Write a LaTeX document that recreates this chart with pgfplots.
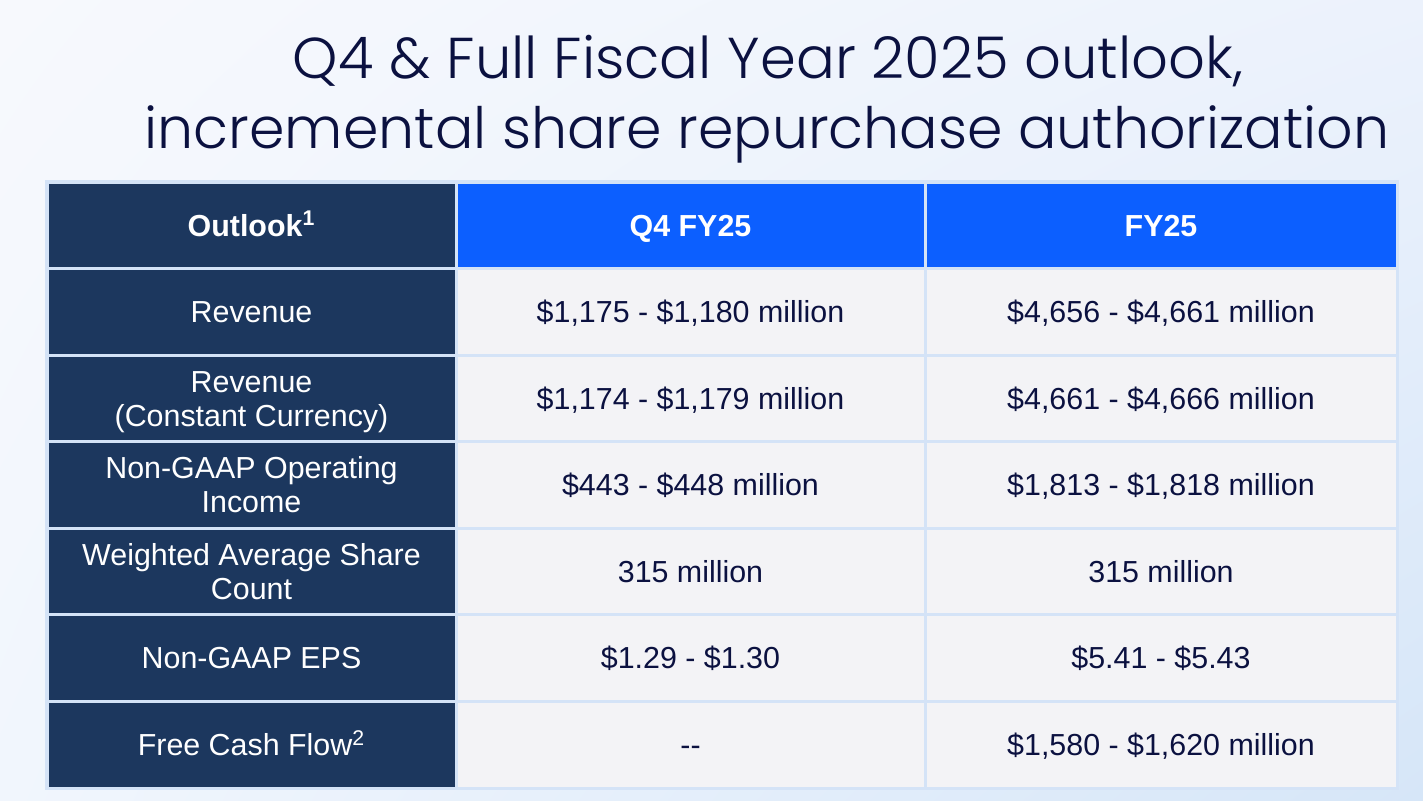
\documentclass[border=0pt]{standalone}
\usepackage{pgfplots}
\pgfplotsset{compat=1.18}
\usetikzlibrary{shadings}
\usepackage{fontspec}
\setmainfont{Liberation Sans}
\newfontfamily\titlefont{Poppins Light}
\definecolor{navy}{HTML}{1C375E}
\definecolor{hblue}{HTML}{0C5FFF}
\definecolor{cellbg}{HTML}{F3F3F6}
\definecolor{gridc}{HTML}{D4E3F7}
\definecolor{ink}{HTML}{0B1140}
\definecolor{bgtl}{HTML}{F7F9FD}
\definecolor{bgtr}{HTML}{ECF2FC}
\definecolor{bgbl}{HTML}{F1F6FD}
\definecolor{bgbr}{HTML}{D6E6F8}
\begin{document}
\begin{tikzpicture}[
  lab/.style={text=white, font=\fontsize{15.2}{17}\selectfont, align=center, anchor=base, inner sep=0pt},
  val/.style={text=ink, font=\fontsize{15.2}{17}\selectfont, anchor=base, inner sep=0pt},
  hdr/.style={text=white, font=\bfseries\fontsize{15.2}{17}\selectfont, anchor=base, inner sep=0pt}]
\begin{axis}[
  at={(0,0)}, anchor=south west,
  width=711.5pt, height=400pt, scale only axis,
  xmin=0, xmax=1423, ymin=0, ymax=800, y dir=reverse,
  hide axis, clip=false]
% background
\shade[upper left=bgtl, upper right=bgtr, lower left=bgbl, lower right=bgbr]
  (axis cs:0,0) rectangle (axis cs:1423,800);
% title
\node[text=ink, font=\titlefont\fontsize{28.8}{34}\selectfont, anchor=base]
  at (axis cs:768,78) {Q4 \& Full Fiscal Year 2025 outlook,};
\node[text=ink, font=\titlefont\fontsize{28.5}{34}\selectfont, anchor=base]
  at (axis cs:767,148) {incremental share repurchase authorization};
% table grid
\fill[gridc] (axis cs:45,180) rectangle (axis cs:1399,790);
% first column (navy)
\fill[navy] (axis cs:48.5,183.5) rectangle (axis cs:454.5,266.5);
\fill[navy] (axis cs:48.5,269.5) rectangle (axis cs:454.5,353.5);
\fill[navy] (axis cs:48.5,356.5) rectangle (axis cs:454.5,439.5);
\fill[navy] (axis cs:48.5,442.5) rectangle (axis cs:454.5,526.5);
\fill[navy] (axis cs:48.5,529.5) rectangle (axis cs:454.5,612.5);
\fill[navy] (axis cs:48.5,615.5) rectangle (axis cs:454.5,699.5);
\fill[navy] (axis cs:48.5,702.5) rectangle (axis cs:454.5,786.5);
% header
\fill[hblue] (axis cs:457.5,183.5) rectangle (axis cs:923.5,266.5);
\fill[hblue] (axis cs:926.5,183.5) rectangle (axis cs:1395.5,266.5);
% body cells
\fill[cellbg] (axis cs:457.5,269.5) rectangle (axis cs:923.5,353.5);
\fill[cellbg] (axis cs:457.5,356.5) rectangle (axis cs:923.5,439.5);
\fill[cellbg] (axis cs:457.5,442.5) rectangle (axis cs:923.5,526.5);
\fill[cellbg] (axis cs:457.5,529.5) rectangle (axis cs:923.5,612.5);
\fill[cellbg] (axis cs:457.5,615.5) rectangle (axis cs:923.5,699.5);
\fill[cellbg] (axis cs:457.5,702.5) rectangle (axis cs:923.5,786.5);
\fill[cellbg] (axis cs:926.5,269.5) rectangle (axis cs:1395.5,353.5);
\fill[cellbg] (axis cs:926.5,356.5) rectangle (axis cs:1395.5,439.5);
\fill[cellbg] (axis cs:926.5,442.5) rectangle (axis cs:1395.5,526.5);
\fill[cellbg] (axis cs:926.5,529.5) rectangle (axis cs:1395.5,612.5);
\fill[cellbg] (axis cs:926.5,615.5) rectangle (axis cs:1395.5,699.5);
\fill[cellbg] (axis cs:926.5,702.5) rectangle (axis cs:1395.5,786.5);
% header text
\node[hdr] at (axis cs:251.5,236) {Outlook\textsuperscript{1}};
\node[hdr] at (axis cs:690.5,236) {Q4 FY25};
\node[hdr] at (axis cs:1161,236) {FY25};
% row labels
\node[lab] at (axis cs:251.5,322.5) {Revenue};
\node[lab] at (axis cs:251.5,426) {Revenue\\(Constant Currency)};
\node[lab] at (axis cs:251.5,512.5) {Non-GAAP Operating\\Income};
\node[lab] at (axis cs:251.5,599) {Weighted Average Share\\Count};
\node[lab] at (axis cs:251.5,668.5) {Non-GAAP EPS};
\node[lab] at (axis cs:251.5,755.5) {Free Cash Flow\textsuperscript{2}};
% Q4 FY25
\node[val] at (axis cs:690.5,322.5) {\$1,175 - \$1,180 million};
\node[val] at (axis cs:690.5,409) {\$1,174 - \$1,179 million};
\node[val] at (axis cs:690.5,495.5) {\$443 - \$448 million};
\node[val] at (axis cs:690.5,582) {315 million};
\node[val] at (axis cs:690.5,668.5) {\$1.29 - \$1.30};
\node[val] at (axis cs:690.5,755.5) {{-}{-}};
% FY25
\node[val] at (axis cs:1161,322.5) {\$4,656 - \$4,661 million};
\node[val] at (axis cs:1161,409) {\$4,661 - \$4,666 million};
\node[val] at (axis cs:1161,495.5) {\$1,813 - \$1,818 million};
\node[val] at (axis cs:1161,582) {315 million};
\node[val] at (axis cs:1161,668.5) {\$5.41 - \$5.43};
\node[val] at (axis cs:1161,755.5) {\$1,580 - \$1,620 million};
\end{axis}
\end{tikzpicture}
\end{document}
